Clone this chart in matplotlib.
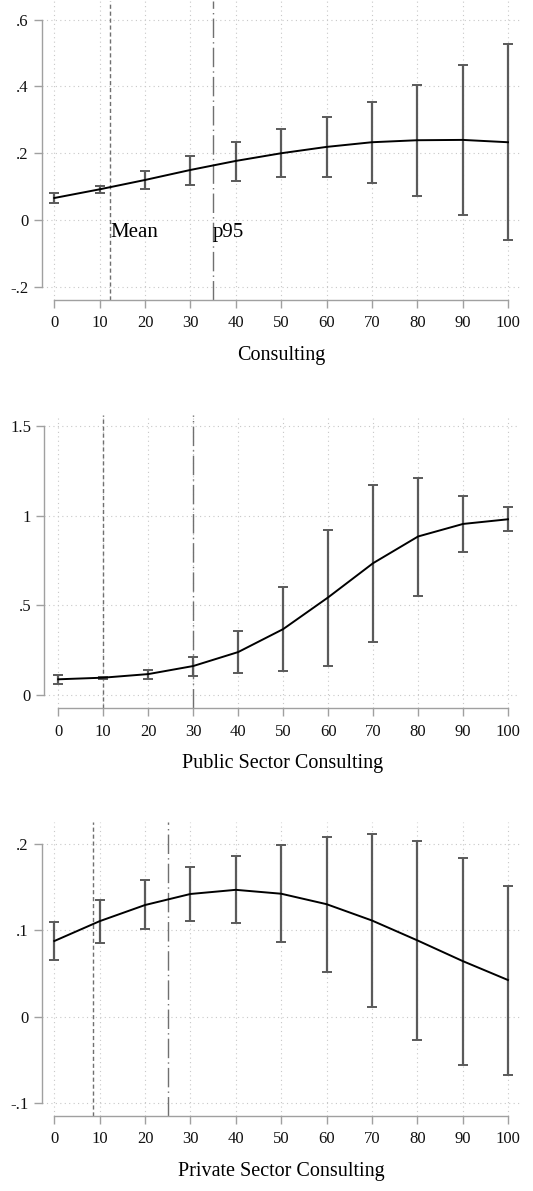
import matplotlib
matplotlib.use("Agg")
import matplotlib.pyplot as plt
import numpy as np

plt.rcParams["font.family"] = ["Liberation Serif", "DejaVu Serif"]

x_levels = [0, 10, 20, 30, 40, 50, 60, 70, 80, 90, 100]

# Consulting
cons_est = [0.066, 0.092, 0.120, 0.150, 0.177, 0.200, 0.219, 0.233, 0.239, 0.240, 0.233]
cons_lo = [0.050, 0.082, 0.093, 0.105, 0.118, 0.128, 0.129, 0.112, 0.073, 0.015, -0.060]
cons_hi = [0.082, 0.103, 0.148, 0.193, 0.234, 0.273, 0.309, 0.354, 0.405, 0.465, 0.527]
cons_mean, cons_p95 = 12.3, 35.0

# Public sector consulting
pub_est = [0.086, 0.095, 0.115, 0.160, 0.238, 0.366, 0.543, 0.734, 0.883, 0.953, 0.979]
pub_lo = [0.058, 0.090, 0.090, 0.106, 0.120, 0.133, 0.162, 0.295, 0.552, 0.797, 0.916]
pub_hi = [0.112, 0.100, 0.139, 0.210, 0.357, 0.599, 0.921, 1.172, 1.207, 1.111, 1.045]
pub_mean, pub_p95 = 9.9, 30.0

# Private sector consulting
priv_est = [0.0877, 0.1107, 0.1294, 0.1422, 0.147, 0.1425, 0.1304, 0.1115, 0.0885, 0.0645, 0.0425]
priv_lo = [0.0655, 0.0855, 0.1017, 0.1113, 0.108, 0.0865, 0.052, 0.0112, -0.0275, -0.056, -0.067]
priv_hi = [0.110, 0.1356, 0.158, 0.173, 0.186, 0.199, 0.2085, 0.2115, 0.204, 0.184, 0.151]
priv_mean, priv_p95 = 8.46, 25.0

y_ticks_cons = [-0.2, 0, 0.2, 0.4, 0.6]
y_labels_cons = ["-.2", "0", ".2", ".4", ".6"]
y_ticks_pub = [0, 0.5, 1, 1.5]
y_labels_pub = ["0", ".5", "1", "1.5"]
y_ticks_priv = [-0.1, 0, 0.1, 0.2]
y_labels_priv = ["-.1", "0", ".1", ".2"]

W, H = 533, 1191
fig = plt.figure(figsize=(W / 100, H / 100), dpi=100)


def px_axes(left, right, top, bottom):
    return fig.add_axes([left / W, 1 - bottom / H, (right - left) / W, (bottom - top) / H])


AX_COL = "#a0a0a0"
GRID_COL = "#c8c8c8"
BAR_COL = "#5a5a5a"
REF_COL = "#707070"


def panel(ax, est, lo, hi, mean_x, p95_x, yticks, ylabels, xlim, ylim, title, labels=False):
    ax.set_xlim(*xlim)
    ax.set_ylim(*ylim)
    for xv in x_levels:
        ax.axvline(xv, color=GRID_COL, lw=0.8, ls=(0, (1, 3)), zorder=0)
    for yv in yticks:
        ax.axhline(yv, color=GRID_COL, lw=0.8, ls=(0, (1, 3)), zorder=0)
    ax.axvline(mean_x, color=REF_COL, lw=1.0, ls=(0, (3, 2)), zorder=1)
    ax.axvline(p95_x, color=REF_COL, lw=1.0, ls=(0, (14, 3, 1, 3)), zorder=1)
    est = np.array(est)
    ax.errorbar(x_levels, est, yerr=[est - np.array(lo), np.array(hi) - est], fmt="none",
                ecolor=BAR_COL, elinewidth=1.6, capsize=3.5, capthick=1.4, zorder=2)
    ax.plot(x_levels, est, color="black", lw=1.4, zorder=3)
    if labels:
        ax.text(mean_x, -0.008, "Mean", fontsize=15, va="top", ha="left")
        ax.text(p95_x, -0.008, "p95", fontsize=15, va="top", ha="left")
    for s in ("top", "right"):
        ax.spines[s].set_visible(False)
    for s in ("left", "bottom"):
        ax.spines[s].set_color(AX_COL)
        ax.spines[s].set_linewidth(1.0)
    ax.spines["left"].set_bounds(yticks[0], yticks[-1])
    ax.spines["bottom"].set_bounds(0, 100)
    ax.set_xticks(x_levels)
    ax.set_xticklabels([str(v) for v in x_levels])
    ax.set_yticks(yticks)
    ax.set_yticklabels(ylabels)
    ax.tick_params(axis="both", direction="out", length=5.5, width=1.0, color=AX_COL,
                   labelsize=12, labelcolor="#111111")
    ax.tick_params(axis="x", pad=5.5)
    ax.tick_params(axis="y", pad=4)
    ax.set_xlabel(title, fontsize=14.5, labelpad=10.5)
    ax.patch.set_visible(False)


ax1 = px_axes(41.7, 520, 1, 300)
panel(ax1, cons_est, cons_lo, cons_hi, cons_mean, cons_p95, y_ticks_cons, y_labels_cons,
      (-2.78, 102.65), (-0.2395, 0.656), "Consulting", labels=True)

ax2 = px_axes(44.3, 520, 415, 708.3)
panel(ax2, pub_est, pub_lo, pub_hi, pub_mean, pub_p95, y_ticks_pub, y_labels_pub,
      (-3.11, 102.67), (-0.0759, 1.561), "Public Sector Consulting")

ax3 = px_axes(41.7, 520, 822, 1115.7)
panel(ax3, priv_est, priv_lo, priv_hi, priv_mean, priv_p95, y_ticks_priv, y_labels_priv,
      (-2.78, 102.65), (-0.1147, 0.2256), "Private Sector Consulting")

fig.savefig("out.png", dpi=100, facecolor="white")
